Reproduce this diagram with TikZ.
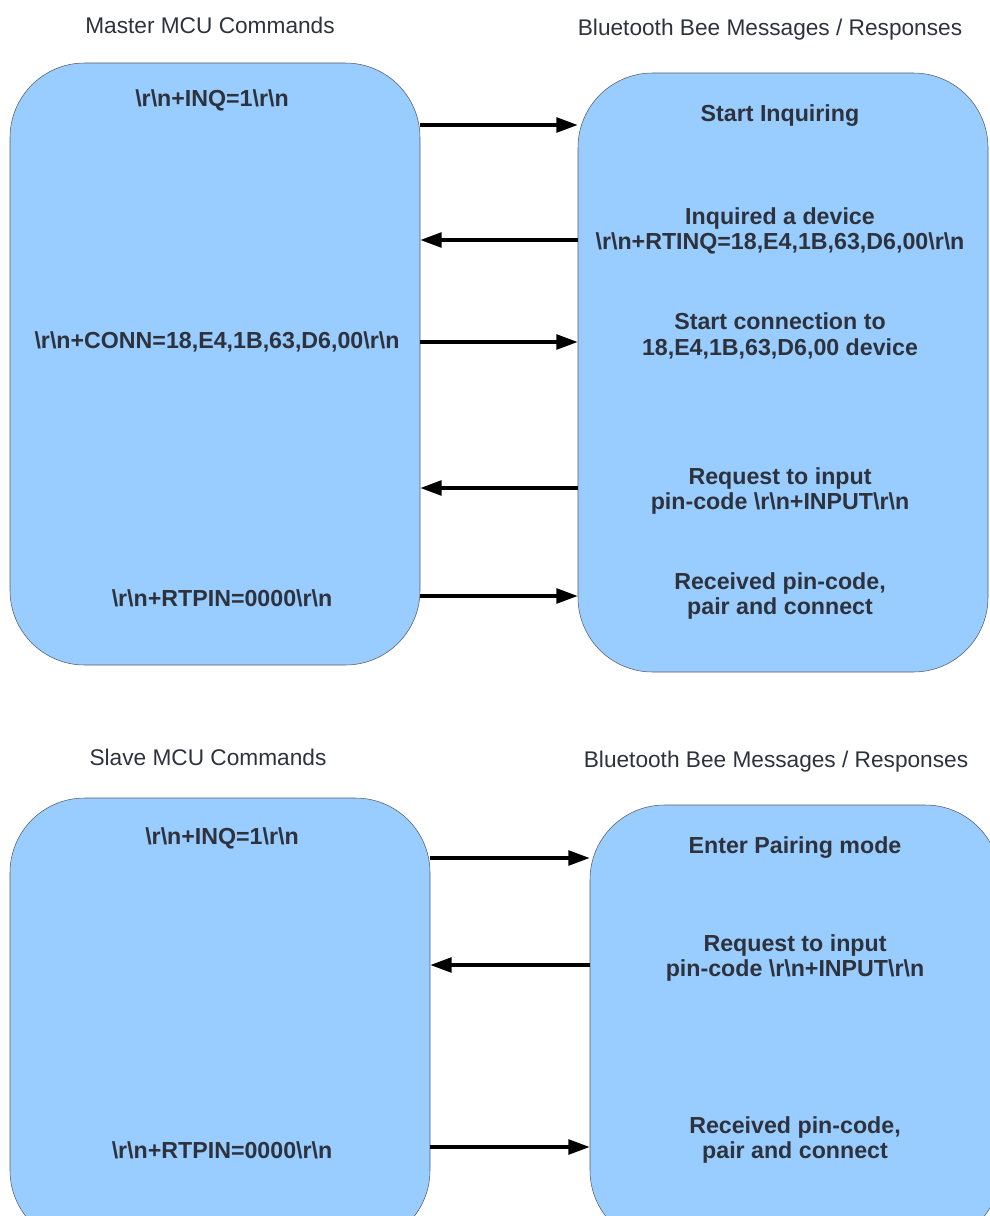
\documentclass[tikz,border=0pt]{standalone}
\usepackage{fontspec}
\setmainfont{Liberation Sans}
\usetikzlibrary{arrows.meta, positioning, fit}
\definecolor{beeblue}{RGB}{153, 204, 255}
\definecolor{beetext}{RGB}{45, 50, 60}

\begin{document}
\begin{tikzpicture}[x=0.75pt, y=-0.75pt,
        flowbox/.style={draw=beetext!80, fill=beeblue, rounded corners=56pt, inner sep=0pt},
        msg/.style={align=center, text=beetext, font=\bfseries\fontsize{17.4}{19}\selectfont},
        heading/.style={text=beetext, font=\fontsize{17}{19}\selectfont},
        flow/.style={line width=2.6pt, -{Triangle[length=16pt, width=11pt]}}]
    \useasboundingbox (0,0) rectangle (989,1216);

    % master side
    \node[heading] (mastertitle) at (210,25) {Master MCU Commands};
    \node[heading] (beetitle) at (770,30) {Bluetooth Bee Messages / Responses};
    \node[flowbox, fit={(10,63) (420,665)}] (master) {};
    \node[flowbox, fit={(578,73) (988,672)}] (bee) {};

    \node[msg] (inq) at (212,100) {\textbackslash r\textbackslash n+INQ=1\textbackslash r\textbackslash n};
    \node[msg] (conn) at (217,342) {\textbackslash r\textbackslash n+CONN=18,E4,1B,63,D6,00\textbackslash r\textbackslash n};
    \node[msg] (rtpin) at (222,598) {\textbackslash r\textbackslash n+RTPIN=0000\textbackslash r\textbackslash n};

    \node[msg] (startinq) at (780,116) {Start Inquiring};
    \node[msg] (inquired) at (780,231) {Inquired a device\\ \textbackslash r\textbackslash n+RTINQ=18,E4,1B,63,D6,00\textbackslash r\textbackslash n};
    \node[msg] (startconn) at (780,336) {Start connection to\\ 18,E4,1B,63,D6,00 device};
    \node[msg] (reqpin) at (780,491) {Request to input\\ pin-code \textbackslash r\textbackslash n+INPUT\textbackslash r\textbackslash n};
    \node[msg] (received) at (780,596) {Received pin-code,\\ pair and connect};

    \draw[flow] (master.east |- 0,125) -- (bee.west |- 0,125);
    \draw[flow] (bee.west |- 0,240) -- (master.east |- 0,240);
    \draw[flow] (master.east |- 0,342) -- (bee.west |- 0,342);
    \draw[flow] (bee.west |- 0,488) -- (master.east |- 0,488);
    \draw[flow] (master.east |- 0,596) -- (bee.west |- 0,596);

    % slave side
    \node[heading] (slavetitle) at (208,757) {Slave MCU Commands};
    \node[heading] (beetitleb) at (776,762) {Bluetooth Bee Messages / Responses};
    \node[flowbox, fit={(10,798) (430,1245)}] (slave) {};
    \node[flowbox, fit={(590,805) (1000,1245)}] (beeb) {};

    \node[msg] (inqb) at (222,838) {\textbackslash r\textbackslash n+INQ=1\textbackslash r\textbackslash n};
    \node[msg] (rtpinb) at (222,1150) {\textbackslash r\textbackslash n+RTPIN=0000\textbackslash r\textbackslash n};

    \node[msg] (pairing) at (795,848) {Enter Pairing mode};
    \node[msg] (reqpinb) at (795,958) {Request to input\\ pin-code \textbackslash r\textbackslash n+INPUT\textbackslash r\textbackslash n};
    \node[msg] (receivedb) at (795,1140) {Received pin-code,\\ pair and connect};

    \draw[flow] (slave.east |- 0,858) -- (beeb.west |- 0,858);
    \draw[flow] (beeb.west |- 0,965) -- (slave.east |- 0,965);
    \draw[flow] (slave.east |- 0,1147) -- (beeb.west |- 0,1147);
\end{tikzpicture}
\end{document}
